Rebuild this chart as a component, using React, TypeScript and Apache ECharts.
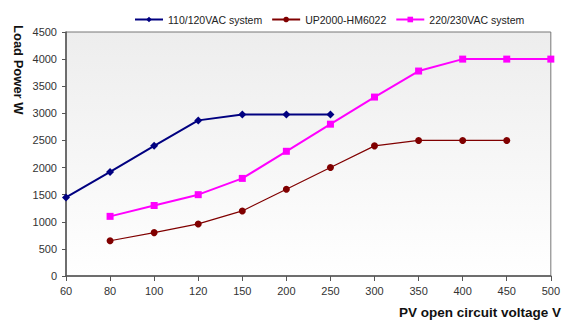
import React, { useEffect, useRef } from "react";
import * as echarts from "echarts";

const categories = ["60", "80", "100", "120", "150", "200", "250", "300", "350", "400", "450", "500"];
const sys110 = [1450, 1920, 2400, 2870, 2980, 2980, 2980, null, null, null, null, null];
const up2000 = [null, 650, 800, 960, 1200, 1600, 2000, 2400, 2500, 2500, 2500, null];
const sys220 = [null, 1100, 1300, 1500, 1800, 2300, 2800, 3300, 3780, 4000, 4000, 4000];

export default function App() {
  const ref = useRef<HTMLDivElement>(null);
  useEffect(() => {
    if (!ref.current) return;
    const chart = echarts.init(ref.current, null, { renderer: "svg" });
    const font = "Arial, 'Liberation Sans', sans-serif";
    chart.setOption({
      animation: false,
      textStyle: { fontFamily: font },
      legend: {
        top: 9,
        left: 129,
        itemWidth: 28,
        itemHeight: 7,
        itemGap: 9,
        textStyle: { fontSize: 10.5, color: "#222", fontFamily: font },
        data: ["110/120VAC system", "UP2000-HM6022", "220/230VAC system"],
      },
      grid: {
        left: 66,
        right: 8,
        top: 32,
        bottom: 45,
        show: true,
        borderColor: "#777",
        borderWidth: 1,
        backgroundColor: new echarts.graphic.LinearGradient(0, 0, 0, 1, [
          { offset: 0, color: "#ededed" },
          { offset: 1, color: "#ffffff" },
        ]),
      },
      xAxis: {
        type: "category",
        data: categories,
        boundaryGap: false,
        axisLine: { lineStyle: { color: "#555", width: 1.5 } },
        axisTick: { alignWithLabel: true, length: 5, lineStyle: { color: "#555" } },
        axisLabel: { fontSize: 11, color: "#333", margin: 9, fontFamily: font },
        splitLine: { show: false },
      },
      yAxis: {
        type: "value",
        min: 0,
        max: 4500,
        interval: 500,
        axisLine: { show: true, lineStyle: { color: "#555", width: 1.5 } },
        axisTick: { show: true, length: 4, lineStyle: { color: "#555" } },
        axisLabel: {
          fontSize: 11,
          color: "#333",
          margin: 9,
          fontFamily: font,
          formatter: (v: number) => String(v),
        },
        splitLine: { show: false },
      },
      graphic: [
        {
          type: "text",
          x: 25,
          y: 25,
          rotation: -Math.PI / 2,
          style: {
            text: "Load Power W",
            font: "bold 13px Arial, 'Liberation Sans', sans-serif",
            fill: "#111",
          },
        },
        {
          type: "text",
          x: 399,
          y: 305,
          style: {
            text: "PV open circuit voltage V",
            font: "bold 13.5px Arial, 'Liberation Sans', sans-serif",
            fill: "#111",
          },
        },
      ],
      series: [
        {
          name: "110/120VAC system",
          type: "line",
          data: sys110,
          color: "#000080",
          symbol: "diamond",
          symbolSize: 8,
          lineStyle: { width: 2 },
        },
        {
          name: "UP2000-HM6022",
          type: "line",
          data: up2000,
          color: "#800000",
          symbol: "circle",
          symbolSize: 7,
          lineStyle: { width: 1.2 },
        },
        {
          name: "220/230VAC system",
          type: "line",
          data: sys220,
          color: "#ff00ff",
          symbol: "rect",
          symbolSize: 7,
          lineStyle: { width: 2 },
        },
      ],
    });
    return () => chart.dispose();
  }, []);
  return <div ref={ref} style={{ width: 563, height: 321, position: "absolute", left: 0, top: 0 }} />;
}
